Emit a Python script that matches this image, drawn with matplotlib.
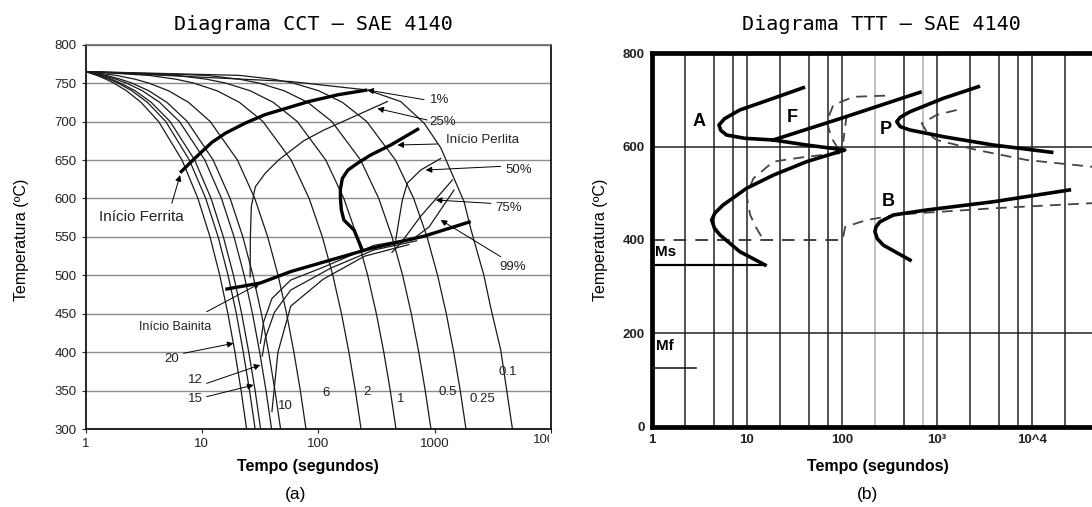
import matplotlib
matplotlib.use('Agg')
import matplotlib.pyplot as plt
from matplotlib.ticker import NullLocator
from matplotlib.transforms import Bbox

plt.rcParams['font.family'] = ['Liberation Sans', 'DejaVu Sans']

# ---------------- (a) CCT - SAE 4140 ----------------
# temperatures at which the cooling curves were read
cct_levels = [765, 760, 755, 750, 740, 725, 700, 650, 600, 550, 500, 450, 400, 350, 300]
# time (s) of each cooling curve at those temperatures
cool_20 = [1, 1.25, 1.5, 1.75, 2.25, 3, 4.25, 6.75, 9.25, 11.75, 14.25, 16.75, 19.25, 21.75, 24.25]
cool_17 = [1, 1.3, 1.6, 1.9, 2.5, 3.4, 4.9, 7.8, 10.8, 13.8, 16.8, 19.8, 22.7, 25.7, 28.7]
cool_15 = [1, 1.33, 1.67, 2, 2.67, 3.67, 5.33, 8.67, 12, 15.3, 18.7, 22, 25.3, 28.7, 32]
cool_12 = [1, 1.42, 1.83, 2.25, 3.08, 4.33, 6.42, 10.6, 14.75, 18.9, 23.1, 27.25, 31.4, 35.6, 39.75]
cool_10 = [1, 1.5, 2, 2.5, 3.5, 5, 7.5, 12.5, 17.5, 22.5, 27.5, 32.5, 37.5, 42.5, 47.5]
cool_6 = [1, 1.83, 2.67, 3.5, 5.17, 7.67, 11.8, 20.2, 28.5, 36.8, 45.2, 53.5, 61.8, 70.2, 78.5]
cool_2 = [1, 3.5, 6, 8.5, 13.5, 21, 33.5, 58.5, 83.5, 108.5, 133.5, 158.5, 183.5, 208.5, 233.5]
cool_1 = [1, 6, 11, 16, 26, 41, 66, 116, 166, 216, 266, 316, 366, 416, 466]
cool_05 = [1, 11, 21, 31, 51, 81, 131, 231, 331, 431, 531, 631, 731, 831, 931]
cool_025 = [1, 21, 41, 61, 101, 161, 261, 461, 661, 861, 1061, 1261, 1461, 1661, 1861]
cool_01_t = [1, 58, 264, 511, 811, 1128, 1468, 1790, 2050, 2650, 3035, 3700, 4666]
cool_01_T = [765, 752, 741, 726, 698, 666, 626, 596, 560, 500, 458, 403, 300]

ferrita_t = [6.5, 8.8, 12.2, 16, 23.6, 35, 58, 82.7, 150, 264]
ferrita_T = [633.5, 653, 673, 685, 698, 709, 719, 726, 735, 741]
perlita_t = [735, 420, 282, 217, 180, 161, 155, 155, 158, 166, 203, 239]
perlita_T = [691, 669.5, 656.5, 645.7, 637, 626, 612, 600, 585, 572, 559, 533]
bainita_t = [15.9, 31.6, 58, 128, 282, 811, 2042]
bainita_T = [482, 490, 505, 520, 535, 551, 570]

f25_t = [393, 217, 112, 75, 45.6, 35, 28.8, 26.6, 26.1, 26.0]
f25_T = [726, 708.5, 689, 675, 650, 632.7, 615.3, 589.3, 550, 498]
f50_t = [1128, 760, 583, 528, 494, 463]
f50_T = [652, 637, 620, 598, 572, 546]
f75_t = [1422, 760, 512, 430]
f75_T = [624, 577, 542, 530]
f99_t = [1468, 896, 620]
f99_T = [611, 563, 545]
bA_t = [700, 300, 112, 58, 40, 34, 31.8]
bA_T = [549, 539, 511, 494, 470, 440, 412]
bB_t = [700, 300, 130, 58, 42, 35, 33]
bB_T = [545, 533, 510, 481, 452, 418, 395]
bC_t = [600, 250, 110, 58, 45, 40]
bC_T = [540, 525, 495, 460, 400, 323]

# arrow labels: text, text pos, arrow tail, arrow tip
arr_text = ['1%', '25%', 'Início Perlita', '50%', '75%', '99%',
            'Início Ferrita', 'Início Bainita', '20', '12', '15']
arr_text_t = [1107, 1181, 2575, 5320, 4335, 4667, 3.05, 5.9, 5.52, 8.77, 8.77]
arr_text_T = [728, 700, 676, 637, 587, 511, 576, 433, 392, 364, 339]
arr_tail_t = [811, 863, 1057, 3700, 3035, 3700, 5.52, 11, 6.96, 11, 11]
arr_tail_T = [728.5, 702, 670.8, 641.7, 593.7, 524.3, 593.7, 452.8, 398.8, 359.7, 342.4]
arr_tip_t = [264, 322, 479, 838, 1023, 1128, 6.5, 31.6, 18.7, 31.8, 27.8]
arr_tip_T = [741, 717, 669.5, 637, 598, 572, 630.5, 489.8, 411.8, 383.6, 357.6]
arr_size = [9.5, 9.5, 9.5, 9.5, 9.5, 9.5, 11, 9, 9.5, 9.5, 9.5]

rate_text = ['10', '6', '2', '1', '0.5', '0.25', '0.1']
rate_t = [52, 116, 264, 511, 1289, 2576, 4226]
rate_T = [330, 347, 349, 340, 349, 340, 375]

# ---------------- (b) TTT - SAE 4140 ----------------
ttt_grid_t = [2.25, 4.5, 7.1, 10, 22.5, 45, 71, 100, 225, 450, 710, 1000,
              2250, 4500, 7100, 10000, 22500]
ttt_grid_light = [225, 710]
ttt_hgrid = [600, 200]

start_t = [39.2, 18.9, 8.4, 5.8, 5.07, 5.3, 6.1, 9.5, 18.9, 42.5, 107,
           42.5, 18.9, 9.9, 5.6, 4.6, 4.25, 4.55, 5.2, 8.4, 15.5]
start_T = [726.5, 703.7, 678.7, 660, 646.5, 635, 625, 618, 614.4, 603.6, 592.9,
           568, 539, 510.8, 475, 458, 442.9, 425, 410.7, 375, 346.4]
ms_hold_t = [15.5, 1]
ms_hold_T = [346.4, 346.4]
ferr_t = [18.9, 95, 662]
ferr_T = [614.4, 660, 716.6]
perl_t = [2723, 1165, 520, 410, 377, 410, 520, 1165, 3917, 16100]
perl_T = [728.6, 703.7, 675, 663, 653.6, 643, 635.8, 621.5, 603.6, 588]
bain_t = [24700, 3917, 778, 347, 251, 228, 222, 235, 272, 520]
bain_T = [507.2, 482, 464.3, 453.6, 439, 428, 417.8, 403, 389, 357]

fend_up_t = [284, 132, 81, 69, 78, 95]
fend_up_T = [709.4, 707, 689.4, 653.6, 618, 590]
fend_mid_t = [112, 103]
fend_mid_T = [668, 610.7]
fend_low_t = [95, 42.5, 18.9, 11.7, 9.9, 10.8, 12.6, 14.9]
fend_low_T = [586, 578.6, 568, 532.3, 496.5, 453.6, 425, 400]
ms_t = [1, 107]
ms_T = [400, 400]
mf_t = [1, 2.9]
mf_T = [126, 126]
pend_t = [1611, 993, 690, 800, 993, 2617, 8790, 42800]
pend_T = [678.7, 668, 650, 628, 614.4, 593, 571.5, 557]
bend_t = [103, 108, 182, 420, 3917, 42800]
bend_T = [407, 428, 443, 455, 468, 479]

ttt_text = ['A', 'F', 'P', 'B']
ttt_text_t = [3.15, 30.3, 290, 307]
ttt_text_T = [654, 662, 636, 482]

W, H = 1092, 507
fig = plt.figure(figsize=(W / 100, H / 100), dpi=100)


def px_axes(x0, x1, ytop, ybot):
    return [x0 / W, 1 - ybot / H, (x1 - x0) / W, (ybot - ytop) / H]


# ---- left panel ----
ax1 = fig.add_axes(px_axes(85.5, 551, 44.6, 429.3))
ax1.set_xscale('log')
ax1.set_xlim(1, 1e4)
ax1.set_ylim(300, 800)
ax1.set_yticks(range(300, 801, 50))
ax1.yaxis.grid(True, color='#8c8c8c', lw=1.0)
ax1.set_axisbelow(True)
ax1.set_xticks([1, 10, 100, 1000, 10000])
ax1.set_xticklabels(['1', '10', '100', '1000', ''])
ax1.xaxis.set_minor_locator(NullLocator())
ax1.tick_params(labelsize=9.5, length=3, width=0.8, colors='#222222')
for s in ax1.spines.values():
    s.set_linewidth(1.2)
ax1.spines['top'].set_color('#666666')

for c in [cool_20, cool_17, cool_15, cool_12, cool_10, cool_6,
          cool_2, cool_1, cool_05, cool_025]:
    ax1.plot(c, cct_levels, color='#1a1a1a', lw=0.9)
ax1.plot(cool_01_t, cool_01_T, color='#1a1a1a', lw=0.9)

for tt, TT in [(f25_t, f25_T), (f50_t, f50_T), (f75_t, f75_T), (f99_t, f99_T),
               (bA_t, bA_T), (bB_t, bB_T), (bC_t, bC_T)]:
    ax1.plot(tt, TT, color='#1a1a1a', lw=0.9)

for tt, TT in [(ferrita_t, ferrita_T), (perlita_t, perlita_T), (bainita_t, bainita_T)]:
    ax1.plot(tt, TT, color='black', lw=2.4, solid_capstyle='butt', solid_joinstyle='round')

for i, txt in enumerate(arr_text):
    ax1.annotate('', xy=(arr_tip_t[i], arr_tip_T[i]),
                 xytext=(arr_tail_t[i], arr_tail_T[i]),
                 arrowprops=dict(arrowstyle='-|>', color='black', lw=0.7,
                                 mutation_scale=9, shrinkA=0, shrinkB=0))
    ax1.text(arr_text_t[i], arr_text_T[i], txt, fontsize=arr_size[i],
             ha='center', va='center', color='#222222')

for i, txt in enumerate(rate_text):
    ax1.text(rate_t[i], rate_T[i], txt, fontsize=9.5, ha='center', va='center',
             color='#222222')

lbl = fig.text(551 / W, 1 - 440 / H, '10000', fontsize=9.5, ha='center', va='center',
               color='#222222')
lbl.set_clip_box(Bbox.from_extents(0, 0, 549, H))
lbl.set_clip_on(True)

fig.text(313 / W, 1 - 25 / H, 'Diagrama CCT — SAE 4140', family='DejaVu Sans Mono',
         fontsize=14.5, ha='center', va='center')
fig.text(22 / W, 1 - 240 / H, 'Temperatura (ºC)', rotation=90, fontsize=11.5,
         ha='center', va='center')
fig.text(308 / W, 1 - 466 / H, 'Tempo (segundos)', fontsize=11.5, fontweight='bold',
         ha='center', va='center')
fig.text(296 / W, 1 - 494 / H, '(a)', fontsize=12.5, ha='center', va='center')

# ---- right panel ----
ax2 = fig.add_axes(px_axes(652, 1127, 53.4, 426.6))
ax2.set_xscale('log')
ax2.set_xlim(1, 1e5)
ax2.set_ylim(0, 800)
ax2.set_xticks([1, 10, 100, 1000, 10000])
ax2.set_xticklabels(['1', '10', '100', '10³', '10^4'], fontweight='bold')
ax2.xaxis.set_minor_locator(NullLocator())
ax2.set_yticks([0, 200, 400, 600, 800])
ax2.set_yticklabels(['0', '200', '400', '600', '800'], fontweight='bold')
ax2.tick_params(labelsize=9.5, length=0, pad=5, colors='#222222')
for s in ax2.spines.values():
    s.set_linewidth(3.4)

for t in ttt_grid_t:
    ax2.axvline(t, color='#b0b0b0' if t in ttt_grid_light else '#222222', lw=1.1, zorder=1)
for T in ttt_hgrid:
    ax2.axhline(T, color='#222222', lw=1.1, zorder=1)

for tt, TT in [(start_t, start_T), (ferr_t, ferr_T), (perl_t, perl_T), (bain_t, bain_T)]:
    ax2.plot(tt, TT, color='black', lw=2.6, zorder=3, solid_joinstyle='round')
ax2.plot(ms_hold_t, ms_hold_T, color='black', lw=1.6, zorder=3)
ax2.plot(mf_t, mf_T, color='#222222', lw=1.2, zorder=3)

for tt, TT in [(fend_up_t, fend_up_T), (fend_mid_t, fend_mid_T), (fend_low_t, fend_low_T),
               (pend_t, pend_T), (bend_t, bend_T)]:
    ax2.plot(tt, TT, color='#444444', lw=1.3, ls=(0, (6, 4)), zorder=2)
ax2.plot(ms_t, ms_T, color='#333333', lw=1.3, ls=(0, (7, 5)), zorder=2)

for i, txt in enumerate(ttt_text):
    ax2.text(ttt_text_t[i], ttt_text_T[i], txt, fontsize=13, fontweight='bold',
             ha='center', va='center', zorder=4,
             bbox=dict(facecolor='white', edgecolor='none', pad=0.5))
ax2.text(1.08, 375, 'Ms', fontsize=11, fontweight='bold', ha='left', va='center', zorder=4,
         bbox=dict(facecolor='white', edgecolor='none', pad=0.3))
ax2.text(1.1, 173, 'Mf', fontsize=11, fontweight='bold', ha='left', va='center', zorder=4,
         bbox=dict(facecolor='white', edgecolor='none', pad=0.3))

fig.text(881 / W, 1 - 24 / H, 'Diagrama TTT — SAE 4140', family='DejaVu Sans Mono',
         fontsize=14.5, ha='center', va='center')
fig.text(600 / W, 1 - 240 / H, 'Temperatura (ºC)', rotation=90, fontsize=11.5,
         ha='center', va='center')
fig.text(878 / W, 1 - 466 / H, 'Tempo (segundos)', fontsize=11.5, fontweight='bold',
         ha='center', va='center')
fig.text(868 / W, 1 - 494 / H, '(b)', fontsize=12.5, ha='center', va='center')

fig.savefig('out.png', dpi=100)
